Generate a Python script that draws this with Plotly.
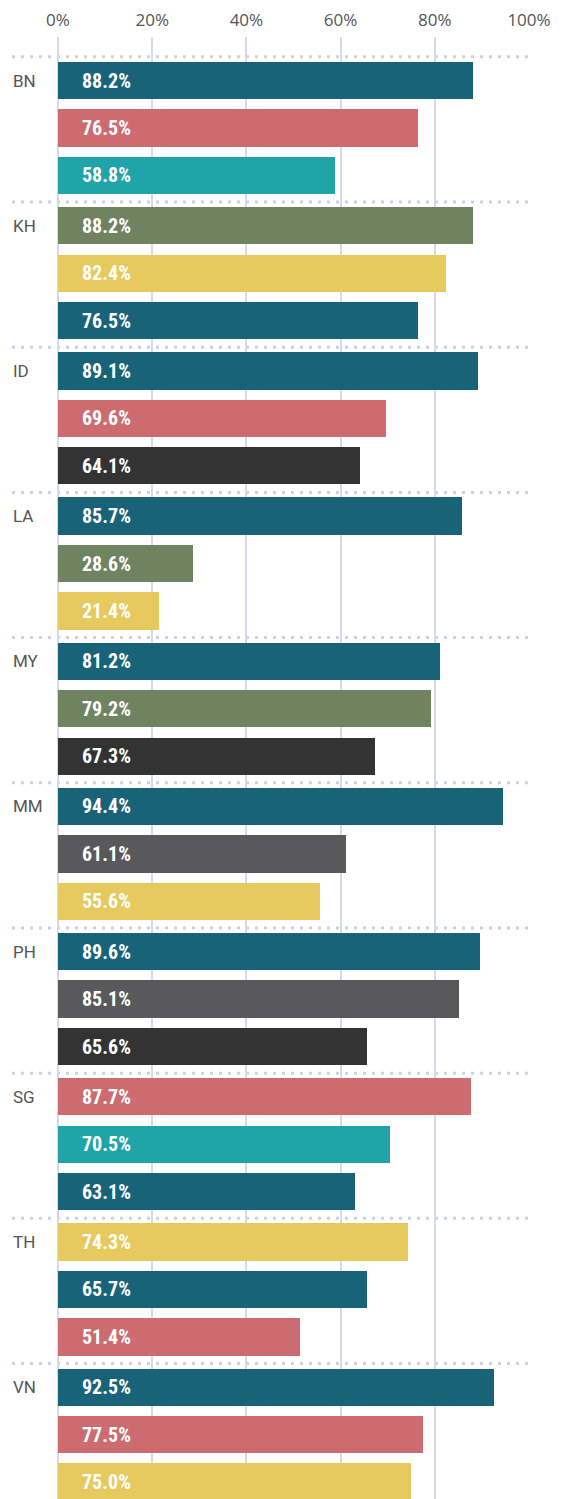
import plotly.graph_objects as go

# data
countries = ['BN', 'KH', 'ID', 'LA', 'MY', 'MM', 'PH', 'SG', 'TH', 'VN']
values = [
    [88.2, 76.5, 58.8],
    [88.2, 82.4, 76.5],
    [89.1, 69.6, 64.1],
    [85.7, 28.6, 21.4],
    [81.2, 79.2, 67.3],
    [94.4, 61.1, 55.6],
    [89.6, 85.1, 65.6],
    [87.7, 70.5, 63.1],
    [74.3, 65.7, 51.4],
    [92.5, 77.5, 75.0],
]
series = [
    ['navy', 'red', 'teal'],
    ['green', 'yellow', 'navy'],
    ['navy', 'red', 'black'],
    ['navy', 'green', 'yellow'],
    ['navy', 'green', 'black'],
    ['navy', 'gray', 'yellow'],
    ['navy', 'gray', 'black'],
    ['red', 'teal', 'navy'],
    ['yellow', 'navy', 'red'],
    ['navy', 'red', 'yellow'],
]

palette = {
    'navy': '#186378',
    'red': '#cc6c71',
    'teal': '#21a4a9',
    'green': '#6f8361',
    'yellow': '#e6ca5e',
    'black': '#333333',
    'gray': '#59595b',
}

grid_color = '#d5daee'
sep_color = '#cbd1e8'
label_font = 'Roboto Condensed, Liberation Sans Narrow, Liberation Sans, Arial'

# flatten into bar slots (3 per country)
xs, ys, cols, labels = [], [], [], []
for g, country in enumerate(countries):
    for j in range(3):
        xs.append(values[g][j])
        ys.append(g * 3 + j * 0.98 + 0.49)
        cols.append(palette[series[g][j]])
        labels.append(f'{values[g][j]:.1f}%')

fig = go.Figure()
fig.add_trace(go.Bar(
    x=xs, y=ys, orientation='h', width=0.77,
    marker=dict(color=cols, line=dict(width=0)),
    hoverinfo='skip',
))

# the html page adds an 8px body margin, so the figure is a bit smaller
W, H = 557, 1491
ml, mr, mt, mb = 50, 36, 24, 0
plot_w = W - ml - mr
page_left = ml + 8

# bar value labels
for x, y, t in zip(xs, ys, labels):
    fig.add_annotation(
        x=0, y=y, xref='x', yref='y', text=f'<b>{t}</b>', showarrow=False,
        xanchor='left', yanchor='middle', xshift=22,
        font=dict(family=label_font, size=20, color='white'),
    )

# country labels
for g, country in enumerate(countries):
    fig.add_annotation(
        x=(11 - page_left) / plot_w, y=g * 3 + 0.49, xref='paper', yref='y', text=country,
        showarrow=False, xanchor='left', yanchor='middle',
        font=dict(family='Roboto', size=17, color='#555555'),
    )

# dotted group separators
for g in range(len(countries)):
    fig.add_shape(
        type='line', xref='paper', yref='y',
        x0=(12 - page_left) / plot_w, x1=1.0, y0=g * 3, y1=g * 3,
        line=dict(color=sep_color, width=3, dash='3px,6px'),
        layer='below',
    )

fig.update_layout(
    width=W, height=H,
    margin=dict(l=ml, r=mr, t=mt, b=mb, pad=0),
    paper_bgcolor='white', plot_bgcolor='white',
    showlegend=False, bargap=0,
    xaxis=dict(
        range=[0, 100], side='top', tickvals=[0, 20, 40, 60, 80, 100],
        ticktext=['0%', '20%', '40%', '60%', '80%', '100%'],
        showgrid=True, gridcolor=grid_color, gridwidth=2,
        zeroline=True, zerolinecolor=grid_color, zerolinewidth=2,
        ticks='outside', ticklen=3, tickcolor='rgba(0,0,0,0)',
        tickfont=dict(family='Open Sans', size=17, color='#555555'),
        showline=False, fixedrange=True,
    ),
    yaxis=dict(
        range=[29.80, -0.41], showticklabels=False, showgrid=False,
        zeroline=False, showline=False, fixedrange=True,
    ),
)

fig.write_html('out.html')
